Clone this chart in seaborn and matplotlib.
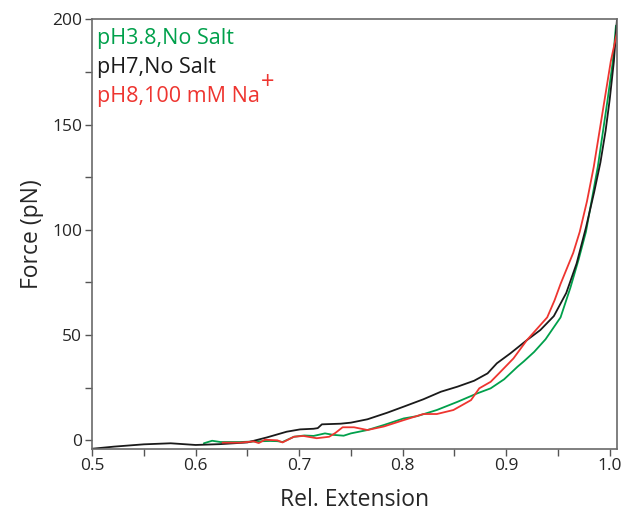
import numpy as np
import pandas as pd
import matplotlib
matplotlib.use('Agg')
import matplotlib.pyplot as plt
import seaborn as sns
from matplotlib.ticker import MultipleLocator

# curves (rel. extension, force in pN)
black_x = [0.5, 0.521, 0.55, 0.576, 0.6, 0.624, 0.65, 0.669, 0.688, 0.701, 0.714, 0.718,
           0.722, 0.74, 0.75, 0.766, 0.785, 0.801, 0.82, 0.837, 0.853, 0.869, 0.882, 0.891,
           0.904, 0.92, 0.933, 0.946, 0.958, 0.968, 0.977, 0.985, 0.991, 0.996, 1.0,
           1.004, 1.007]
black_y = [-4, -3.0, -1.9, -1.4, -2.2, -1.8, -1.0, 1.4, 4.1, 5.2, 5.5, 5.8,
           7.6, 7.9, 8.4, 10.0, 13.1, 16.0, 19.5, 23.1, 25.5, 28.3, 31.8, 36.6,
           41.3, 47.6, 52.4, 59.0, 70, 84, 101, 118, 132, 147, 162,
           180, 200]

green_x = [0.608, 0.616, 0.624, 0.643, 0.659, 0.672, 0.679, 0.684, 0.695, 0.705, 0.714,
           0.725, 0.733, 0.743, 0.75, 0.766, 0.782, 0.801, 0.814, 0.833, 0.853, 0.872,
           0.885, 0.898, 0.911, 0.917, 0.927, 0.938, 0.9525, 0.962, 0.970, 0.977, 0.9885,
           0.998, 1.003, 1.006]
green_y = [-1.4, -0.2, -0.8, -0.8, -0.5, -0.3, -0.4, -0.8, 1.7, 2.3, 2.1,
           3.3, 2.6, 2.2, 3.3, 4.9, 7.3, 10.4, 11.5, 14.4, 18.3, 22.3,
           24.7, 29.0, 35.0, 37.5, 42.0, 48.0, 58.4, 72.5, 86, 99, 130,
           162, 180, 197]

red_x = [0.626, 0.643, 0.656, 0.661, 0.667, 0.679, 0.684, 0.695, 0.704, 0.717, 0.729,
         0.735, 0.742, 0.753, 0.766, 0.782, 0.801, 0.82, 0.833, 0.849, 0.866, 0.874,
         0.885, 0.893, 0.907, 0.920, 0.9396, 0.9467, 0.9525, 0.9647, 0.971, 0.978,
         0.9846, 0.995, 1.001, 1.008]
red_y = [-1.1, -1.1, -0.5, -1.3, 0.3, 0, -1, 1.7, 2.1, 1.0, 1.7,
         3.5, 6.2, 6.2, 4.9, 6.6, 9.6, 12.5, 12.5, 14.4, 19.1, 24.7,
         27.8, 31.8, 38.9, 47.6, 58.4, 66.5, 74.3, 89, 99, 113.5,
         130, 161.7, 180, 196]

labels = ['pH3.8,No Salt', 'pH7,No Salt', 'pH8,100 mM Na']
colors = ['#00a04b', '#1a1a1a', '#ee3530']

sns.set_style('white')
plt.rcParams['font.family'] = ['Open Sans', 'DejaVu Sans']

df = pd.concat([
    pd.DataFrame({'ext': green_x, 'force': green_y, 'cond': labels[0]}),
    pd.DataFrame({'ext': black_x, 'force': black_y, 'cond': labels[1]}),
    pd.DataFrame({'ext': red_x, 'force': red_y, 'cond': labels[2]}),
])

fig = plt.figure(figsize=(6.26, 5.17), dpi=100)
ax = fig.add_axes([0.147, 0.132, 0.8386, 0.8307])

sns.lineplot(data=df, x='ext', y='force', hue='cond', palette=colors,
             estimator=None, sort=False, linewidth=1.3, legend=False, ax=ax)

ax.set_xlim(0.5, 1.007)
ax.set_ylim(-4, 200)
ax.xaxis.set_minor_locator(MultipleLocator(0.05))
ax.yaxis.set_major_locator(MultipleLocator(50))
ax.yaxis.set_minor_locator(MultipleLocator(25))
ax.set_xticks([0.5, 0.6, 0.7, 0.8, 0.9, 1.0])
ax.set_xticklabels(['0.5', '0.6', '0.7', '0.8', '0.9', '1.0'])
ax.tick_params(which='both', direction='out', length=5, width=1, color='#555555',
               bottom=True, left=True, top=False, right=False)
ax.tick_params(labelsize=12.5, pad=2)

for s in ax.spines.values():
    s.set_color('#6a6a6a')
    s.set_linewidth(1.2)

ax.set_xlabel('Rel. Extension', fontsize=16.5, labelpad=10)
ax.set_ylabel('Force (pN)', fontsize=16.5, labelpad=6)

ys = [0.942, 0.874, 0.808]
texts = []
for lab, c, yy in zip(labels, colors, ys):
    texts.append(ax.text(0.01, yy, lab, color=c, fontsize=15.5,
                         transform=ax.transAxes, va='baseline'))
# raised "+" after Na
ax.annotate('+', xy=(1.0, 0.58), xycoords=texts[2], xytext=(0.5, 0),
            textcoords='offset points', color=colors[2], fontsize=17,
            ha='left', va='bottom')

fig.savefig('out.png', dpi=100)
